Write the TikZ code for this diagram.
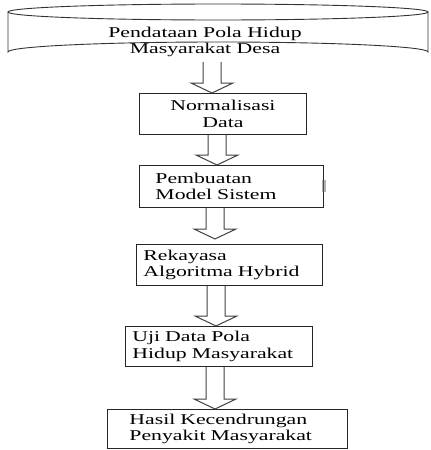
\documentclass[tikz,border=0pt]{standalone}
\usepackage{fontspec}
\setmainfont{Liberation Serif}[FakeStretch=1.45]
\usetikzlibrary{calc}

\tikzset{
  stepbox/.style={draw=black!85, line width=0.9pt, rectangle, anchor=north west, align=left,
    inner ysep=0pt, font=\fontsize{15}{16.5}\selectfont},
  hollow/.style={draw=black!75, line width=1pt, line join=miter},
}

% hollow arrow: from, to, x, gap
\newcommand{\hollowarrow}[4]{%
  \draw[hollow] ($(#3,0 |- #1)+(-9,0)$) -- ($(#3,0 |- #2)+(-9,-10-#4)$)
    -- ($(#3,0 |- #2)+(-21,-10-#4)$) -- ($(#3,0 |- #2)+(0,-#4)$)
    -- ($(#3,0 |- #2)+(21,-10-#4)$) -- ($(#3,0 |- #2)+(9,-10-#4)$)
    -- ($(#3,0 |- #1)+(9,0)$);}

\begin{document}
\begin{tikzpicture}[x=1pt,y=-1pt]
    \useasboundingbox (0,0) rectangle (431,450);
    % data source
    \draw[black!80,line width=0.9pt] (8,12) -- (8,52) arc[start angle=180,end angle=360,x radius=210,y radius=10] -- (428,12);
    \draw[black!80,line width=0.9pt] (218,12) ellipse[x radius=210,y radius=8];
    \node[align=center,font=\fontsize{15}{16.5}\selectfont] (pendataan) at (205,42) {Pendataan Pola Hidup\\Masyarakat Desa};
    \coordinate (cylbase) at (212,62);
    % steps
    \node[stepbox,align=center,minimum width=167pt,minimum height=41pt,text width=157pt,inner xsep=5pt] (norm) at (139,93) {Normalisasi\\Data};
    \node[stepbox,minimum width=184pt,minimum height=42pt,text width=152pt,inner xsep=16pt] (model) at (139,165) {Pembuatan\\Model Sistem};
    \node[stepbox,minimum width=186pt,minimum height=41pt,text width=172pt,inner xsep=7pt] (algo) at (136,244) {Rekayasa\\Algoritma Hybrid};
    \node[stepbox,minimum width=187pt,minimum height=40pt,text width=173pt,inner xsep=7pt] (uji) at (125,326) {Uji Data Pola\\Hidup Masyarakat};
    \node[stepbox,minimum width=240pt,minimum height=39pt,text width=196pt,inner xsep=22pt] (hasil) at (107,409) {Hasil Kecendrungan\\Penyakit Masyarakat};
    \fill[black!30] (322,180) rectangle (326,192);
    \draw[black!70,line width=0.6pt] (323,180) -- (323,192);
    % arrows
    \hollowarrow{cylbase}{norm.north}{212}{0}
    \hollowarrow{norm.south}{model.north}{217}{0}
    \hollowarrow{model.south}{algo.north}{215}{5}
    \hollowarrow{algo.south}{uji.north}{216}{0}
    \hollowarrow{uji.south}{hasil.north}{215}{0}
\end{tikzpicture}
\end{document}
